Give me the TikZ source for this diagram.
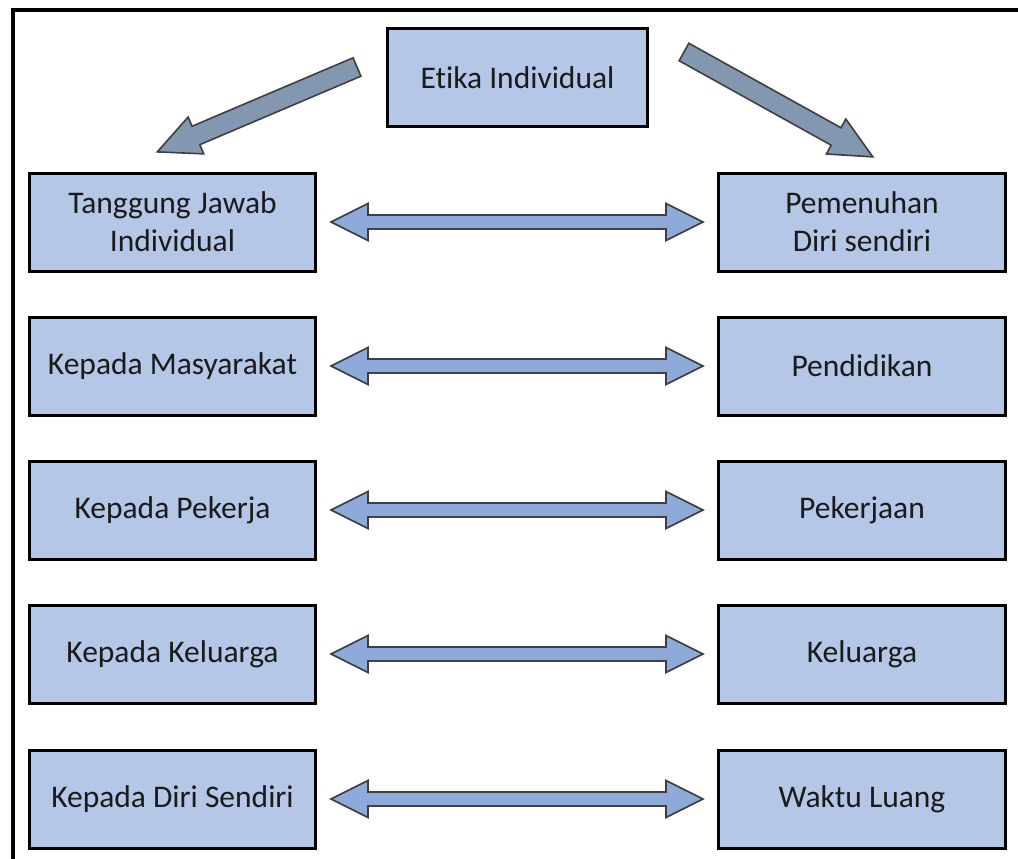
\documentclass[tikz,border=0pt]{standalone}
\usepackage{fontspec}
\setmainfont{Carlito}[Ligatures=CommonOff]
\usetikzlibrary{calc}
\definecolor{boxfill}{HTML}{B4C7E7}
\definecolor{dblfill}{HTML}{8EAADB}
\definecolor{diagfill}{HTML}{8497B0}
\definecolor{arrline}{HTML}{3F3F3F}
\definecolor{txt}{HTML}{1A1A1A}
\tikzset{
  boxnode/.style={draw=black, line width=3pt, fill=boxfill, minimum height=98pt,
    inner sep=0pt, align=center, text=txt, font=\fontsize{31.5}{38}\selectfont},
  leftbox/.style={boxnode, minimum width=286pt},
  rightbox/.style={boxnode, minimum width=287pt},
  dblarrow/.style={draw=arrline, line width=1.6pt, fill=dblfill, line join=miter},
  diagarrow/.style={draw=arrline, line width=1.6pt, fill=diagfill, line join=miter},
  frameline/.style={draw=black, line width=4pt}
}
\newcommand\biarrow[2]{%
  \draw[dblarrow] ($(#1.east)+(14,0)$) -- ++(37,-18.5) -- ++(0,11.5)
    -- ($(#2.west)+(-51,-7)$) -- ++(0,-11.5) -- ($(#2.west)+(-14,0)$)
    -- ++(-37,18.5) -- ++(0,-11.5) -- ($(#1.east)+(51,7)$) -- ++(0,11.5) -- cycle;}
\newcommand\blockarrow[3]{% from, angle, length
  \begin{scope}[shift={(#1)}, rotate=#2]
    \draw[diagarrow] (0,-10) -- (#3-42,-10) -- (#3-42,-20) -- (#3,0)
      -- (#3-42,20) -- (#3-42,10) -- (0,10) -- cycle;
  \end{scope}}
\begin{document}
\begin{tikzpicture}[x=1pt, y=-1pt]
\useasboundingbox (0,0) rectangle (1018,859);
% frame
\coordinate (ftl) at (12.5,10);
\coordinate (ftr) at (1018,10);
\coordinate (fbl) at (12.5,859);
\draw[frameline] (ftr) -- (ftl) -- (fbl);
% top node
\node[boxnode, minimum width=260pt] (etika) at (517.5,77.5) {Etika Individual};
% left column
\node[leftbox] (l1) at (172.5,222) {Tanggung Jawab\\Individual};
\node[leftbox] (l2) at (172.5,366) {Kepada Masyarakat};
\node[leftbox] (l3) at (172.5,510) {Kepada Pekerja};
\node[leftbox] (l4) at (172.5,654) {Kepada Keluarga};
\node[leftbox] (l5) at (172.5,799) {Kepada Diri Sendiri};
% right column
\node[rightbox] (r1) at (862,222) {Pemenuhan\\Diri sendiri};
\node[rightbox] (r2) at (862,366) {Pendidikan};
\node[rightbox] (r3) at (862,510) {Pekerjaan};
\node[rightbox] (r4) at (862,654) {Keluarga};
\node[rightbox] (r5) at (862,799) {Waktu Luang};
% double arrows
\biarrow{l1}{r1}
\biarrow{l2}{r2}
\biarrow{l3}{r3}
\biarrow{l4}{r4}
\biarrow{l5}{r5}
% diagonal block arrows
\coordinate (lt) at ($(etika.west)+(-29,-10.5)$);
\coordinate (rt) at ($(etika.east)+(35,-25.5)$);
\blockarrow{lt}{203.03}{217}
\blockarrow{rt}{-29.05}{216}
\end{tikzpicture}
\end{document}
